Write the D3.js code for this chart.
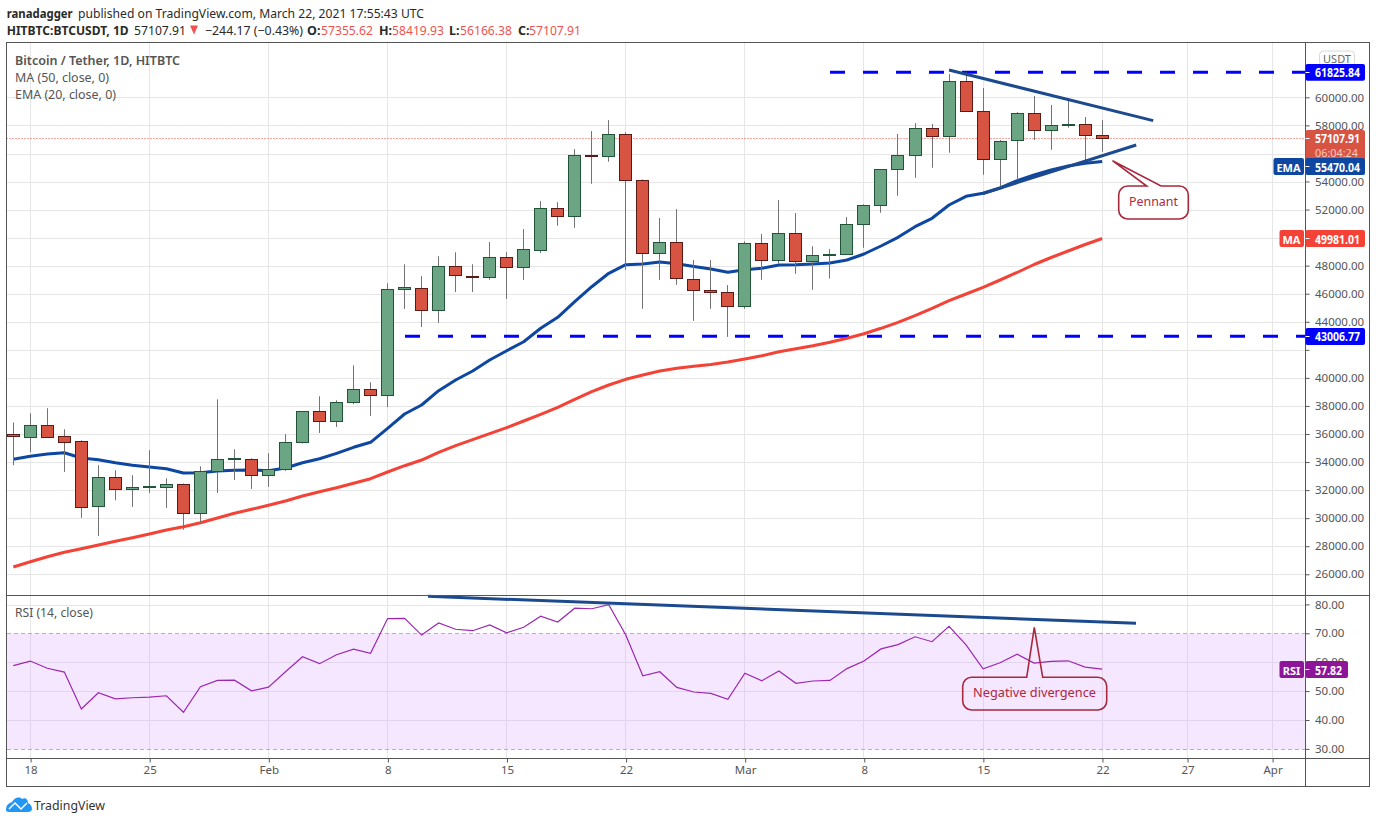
<!DOCTYPE html>
<html><head><meta charset="utf-8">
<script src="https://cdn.jsdelivr.net/npm/d3@7/dist/d3.min.js"></script>
<style>
html,body{margin:0;padding:0;background:#fff}
svg{display:block}
text{font-family:"Noto Sans",sans-serif}
</style></head><body>
<svg id="c" width="1376" height="823"></svg>
<script>
const priceOpen=[36000,35825,36645,35865,35505,30845,32940,32090,32240,32230,32440,30375,33370,34240,34220,
33080,33510,35435,37635,36935,38265,39205,38785,46335,46405,44845,47985,47305,47205,48630,47920,49125,52120,51560,55920,55850,57405,54120,48915,49695,47055,46275,46135,
45140,49625,48420,50335,48350,48800,48840,50985,52340,54910,55900,57825,57265,61185,59040,55630,56975,58900,57700,58060,58090,57355.62];
const priceHigh=[36860,37520,37880,36380,35595,33815,33460,33110,34885,32890,32510,33740,38515,34950,34310,
34670,36025,37635,38730,38445,40945,39730,46785,48140,47290,48710,48995,48145,49720,49000,50645,52640,52570,56350,57635,58415,57545,54190,51440,52070,48440,48440,46655,
49775,50295,52710,51790,49430,49220,51500,52410,54910,57425,58205,58135,61700,61825,60705,56995,58990,60135,59490,59975,58640,58419.93];
const priceLow=[33815,34745,35765,33340,30065,28780,31315,30845,31840,30775,29215,29735,31840,32770,32130,
32270,33410,35365,36115,36545,38165,37335,37965,44955,43670,43960,46170,46170,47030,45670,47030,48960,50890,50740,53875,55450,47750,44965,47030,46675,44110,44965,42965,
44965,47035,48200,47460,46325,47125,48840,49315,51810,53025,54310,55020,56095,59040,54520,53550,54145,56995,56305,57880,55450,56166.38];
const priceClose=[35830,36645,35825,35435,30795,32940,32090,32230,32270,32440,30375,33370,34220,34280,33080,
33510,35435,37635,36935,38275,39205,38785,46335,46475,44845,47985,47345,47245,48630,47920,49195,52120,51560,55900,55850,57405,54120,48915,49695,47135,46275,46135,45140,
49625,48420,50335,48350,48770,48830,50985,52340,54910,55900,57825,57265,61185,59040,55630,56905,58900,57700,58050,58110,57355,57107.91];
const ema20=[34239,34452,34616,34709,34331,34210,33996,33811,33689,33568,33262,33283,33404,33454,33476,
33425,33618,33996,34281,34666,35094,35450,36449,37468,38109,39129,39891,40533,41317,41980,42621,43577,44361,45473,46542,47498,48111,48160,48303,48182,47982,47804,47569,
47754,47854,48089,48111,48160,48232,48446,48873,49444,50064,50819,51418,52366,52986,53200,53578,54098,54505,54861,55147,55339,55470.04];
const ma50=[26561,26939,27295,27609,27865,28129,28393,28649,28913,29198,29434,29719,30054,30389,30674,
30959,31266,31622,31929,32214,32528,32855,33333,33782,34188,34737,35208,35636,36064,36491,36968,37446,37945,38516,39057,39535,39941,40248,40533,40725,40868,40996,41174,
41388,41624,41909,42123,42336,42579,42864,43192,43577,44005,44475,45003,45544,46022,46500,47020,47555,48125,48624,49087,49551,49981.01];
const rsi14=[59.0,60.6,58.1,56.8,44.0,49.65,47.5,47.9,48.1,48.6,42.9,51.7,53.9,54.0,50.3,
51.6,56.9,62.1,59.7,62.8,64.7,63.3,75.3,75.4,69.6,73.8,71.6,71.1,73.1,70.4,72.3,76.1,74.1,78.9,78.7,80.1,69.6,55.5,56.9,51.5,49.9,49.4,47.4,
56.4,53.8,57.2,52.9,53.7,53.9,58.0,60.6,64.8,66.3,69.0,67.3,72.6,66.2,57.9,60.0,63.0,59.9,60.5,60.7,58.5,57.82];
const priceTicks=[26000,28000,30000,32000,34000,36000,38000,40000,42000,44000,46000,48000,50000,52000,54000,56000,58000,60000];
const hiddenPriceLabels=[42000,56000];
const rsiTicks=[30,40,50,60,70,80];
const timeTickDates=["2021-01-18","2021-01-25","2021-02-01","2021-02-08","2021-02-15","2021-02-22","2021-03-01","2021-03-08","2021-03-15","2021-03-22","2021-03-27","2021-04-01"];
const timeTickLabels=["18","25","Feb","8","15","22","Mar","8","15","22","27","Apr"];
const supportLevel=43006.77, resistanceLevel=61825.84;
const firstDay="2021-01-17";

const BORDER="#555", GRID="#e6e6e6", TXT="#555";
const L=6.5,R=1369.5,T=43,B=786.5,AX=1305.5,TA=758.5,SPLIT=595.5;
const svg=d3.select("#c");
const days=priceOpen.map((_,i)=>d3.utcDay.offset(new Date(firstDay),i));
const x=d3.scaleUtc().domain([new Date("2021-01-18"),new Date("2021-04-01")]).range([30.3,1272.3]);
const y=d3.scaleLinear().domain([61825.84,43006.77]).range([72.3,336.3]);
const yr=d3.scaleLinear().domain([80,30]).range([605,749.5]);
const tickDates=timeTickDates.map(d=>new Date(d));
const snap=v=>Math.round(v-0.5)+0.5;

// grid
const grid=svg.append("g").attr("stroke",GRID).attr("stroke-width",1).attr("shape-rendering","crispEdges");
tickDates.forEach(d=>grid.append("line").attr("x1",snap(x(d))).attr("x2",snap(x(d))).attr("y1",T).attr("y2",TA));
priceTicks.forEach(p=>grid.append("line").attr("x1",L).attr("x2",AX).attr("y1",snap(y(p))).attr("y2",snap(y(p))));

// RSI band
svg.append("rect").attr("x",L).attr("width",AX-L).attr("y",snap(yr(70))).attr("height",snap(yr(30))-snap(yr(70))).attr("fill","#9915ff").attr("fill-opacity",0.1);
const rg=svg.append("g").attr("shape-rendering","crispEdges");
rsiTicks.forEach(v=>{
  const edge=(v==70||v==30);
  rg.append("line").attr("x1",L).attr("x2",AX).attr("y1",snap(yr(v))).attr("y2",snap(yr(v)))
    .attr("stroke",edge?"#bfa9c6":(v==80?GRID:"#e2d4ea")).attr("stroke-dasharray",edge?"4 3":null);
});
tickDates.forEach(d=>rg.append("line").attr("x1",snap(x(d))).attr("x2",snap(x(d))).attr("y1",snap(yr(70))+1).attr("y2",snap(yr(30))-1).attr("stroke","#e2d4ea"));

// Last price line
svg.append("line").attr("x1",L).attr("x2",AX).attr("y1",snap(y(57107.91))).attr("y2",snap(y(57107.91))).attr("stroke","#ef4a3c").attr("stroke-width",1).attr("stroke-dasharray","1 2");

// Horizontal dashed levels
svg.append("line").attr("x1",405).attr("x2",AX).attr("y1",y(supportLevel)).attr("y2",y(supportLevel)).attr("stroke","#0000ff").attr("stroke-width",3).attr("stroke-dasharray","15 18");
svg.append("line").attr("x1",830).attr("x2",AX).attr("y1",y(resistanceLevel)).attr("y2",y(resistanceLevel)).attr("stroke","#0000ff").attr("stroke-width",3).attr("stroke-dasharray","15 18");

// Moving averages
const line=d3.line().x((d,i)=>x(days[i])).y(d=>y(d));
svg.append("path").attr("d",line(ma50)).attr("fill","none").attr("stroke","#f44336").attr("stroke-width",3).attr("stroke-linejoin","round");
svg.append("path").attr("d",line(ema20)).attr("fill","none").attr("stroke","#0d47a1").attr("stroke-width",3).attr("stroke-linejoin","round");

// Candles
const cg=svg.append("g");
days.forEach((d,i)=>{
  const up=priceClose[i]>=priceOpen[i], cx=x(d);
  const wx=snap(cx);
  cg.append("line").attr("x1",wx).attr("x2",wx).attr("y1",y(priceHigh[i])).attr("y2",y(priceLow[i])).attr("stroke","#737375").attr("stroke-width",1);
  const top=snap(y(Math.max(priceOpen[i],priceClose[i]))), bot=snap(y(Math.min(priceOpen[i],priceClose[i])));
  cg.append("rect").attr("x",wx-6).attr("width",12).attr("y",top).attr("height",Math.max(bot-top,1))
    .attr("fill",up?"#6ba583":"#d75442").attr("stroke",up?"#225437":"#5b1a13").attr("stroke-width",1);
});

// Trend lines
const TL="#1c4a8f";
[["2021-03-13",61990,"2021-03-25",58380],["2021-03-15",53190,"2021-03-24",56640]].forEach(a=>{
  svg.append("line").attr("x1",x(new Date(a[0]))).attr("y1",y(a[1])).attr("x2",x(new Date(a[2]))).attr("y2",y(a[3])).attr("stroke",TL).attr("stroke-width",3);
});
// RSI pane
svg.append("path").attr("d",d3.line().x((d,i)=>x(days[i])).y(d=>yr(d))(rsi14)).attr("fill","none").attr("stroke","#9c27b0").attr("stroke-width",1.2);
svg.append("line").attr("x1",428).attr("y1",596.3).attr("x2",1136).attr("y2",623.3).attr("stroke",TL).attr("stroke-width",3);

// Frame
const fr=svg.append("g").attr("stroke",BORDER).attr("fill","none").attr("shape-rendering","crispEdges");
fr.append("rect").attr("x",L).attr("y",T-0.5).attr("width",R-L).attr("height",B-T+0.5).attr("stroke-width",1);
fr.append("line").attr("x1",L).attr("x2",R).attr("y1",SPLIT).attr("y2",SPLIT);
fr.append("line").attr("x1",L).attr("x2",R).attr("y1",TA).attr("y2",TA);
fr.append("line").attr("x1",AX).attr("x2",AX).attr("y1",T).attr("y2",B);

// Axes
function style(g){
  g.select(".domain").remove();
  g.selectAll("line").attr("stroke",BORDER);
  g.selectAll("text").attr("fill",TXT).attr("font-size",11.5).attr("font-family",'"Noto Sans",sans-serif');
}
const fmt=d3.format(".2f");
svg.append("g").attr("transform",`translate(${AX},-0.6)`).call(d3.axisRight(y).tickValues(priceTicks).tickSize(4).tickPadding(5.5).tickFormat(fmt)).call(style)
  .selectAll(".tick").each(function(d){ if(hiddenPriceLabels.includes(d)) d3.select(this).select("text").remove(); });
svg.append("g").attr("transform",`translate(${AX},-0.6)`).call(d3.axisRight(yr).tickValues(rsiTicks).tickSize(4).tickPadding(5.5).tickFormat(fmt)).call(style);
svg.append("g").attr("transform",`translate(0.3,${TA})`).call(d3.axisBottom(x).tickValues(tickDates).tickSize(4).tickPadding(3).tickFormat((d,i)=>timeTickLabels[i])).call(style);

// Text helper
function t(s,xx,yy,o={}){
  const e=svg.append("text").attr("x",xx).attr("y",yy).text(s).attr("font-size",o.size||12).attr("fill",o.fill||TXT).attr("text-anchor",o.anchor||"start").attr("dominant-baseline","central");
  if(o.weight)e.attr("font-weight",o.weight);
  if(o.len)e.attr("textLength",o.len).attr("lengthAdjust","spacingAndGlyphs");
  return e;
}
// Header
t("ranadagger",6.7,13,{size:12.5,weight:700,fill:"#2a2a2a",len:66});
t("published on TradingView.com, March 22, 2021 17:55:43 UTC",78,13,{size:12.5,fill:"#2a2a2a",len:346});
t("HITBTC:BTCUSDT, 1D",6.7,30,{size:12.5,weight:700,fill:"#2a2a2a",len:122});
t("57107.91",134,30,{size:12.5,fill:"#2a2a2a",len:52});
svg.append("path").attr("d","M190 25.5 L198 25.5 L194 34.5 Z").attr("fill","#ef5350");
t("\u2212244.17 (\u22120.43%)",205,30,{size:12.5,fill:"#2a2a2a",len:98});
[["O:",307,"57355.62",321],["H:",379,"58419.93",392],["L:",449,"56166.38",460],["C:",518,"57107.91",529]].forEach(a=>{
  t(a[0],a[1],30,{size:12.5,weight:700,fill:"#2a2a2a"});
  t(a[2],a[3],30,{size:12.5,fill:"#ef5350",len:52});
});
t("Bitcoin / Tether, 1D, HITBTC",15,60,{size:12.5,weight:600,len:165});
t("MA (50, close, 0)",15,77,{size:12.5,len:94});
t("EMA (20, close, 0)",15,94.5,{size:12.5,len:101});
t("RSI (14, close)",15,612.5,{size:12.5,len:78});

// Price labels
function tag(x0,w,y0,h,fill){svg.append("rect").attr("x",x0).attr("y",y0).attr("width",w).attr("height",h).attr("rx",2).attr("fill",fill);}
function tick(yy,col){svg.append("line").attr("x1",AX).attr("x2",AX+4).attr("y1",yy).attr("y2",yy).attr("stroke",col||"#fff");}
svg.append("rect").attr("x",1319.5).attr("y",51).attr("width",35).attr("height",15.5).attr("rx",4).attr("fill","#fff").attr("stroke","#d8d8d8");
t("USDT",1337,58,{size:11,anchor:"middle",fill:"#666"});
tag(1305.5,59.5,64,16.7,"#0000ff"); tick(72.5);
t("61825.84",1315,72.6,{size:11.5,weight:700,fill:"#fff",len:45});
tag(1305.5,59.5,328,17,"#0000ff"); tick(336.5);
t("43006.77",1315,336.8,{size:11.5,weight:700,fill:"#fff",len:45});
tag(1305.5,59.5,130,31,"#d75442"); tick(138.5);
t("57107.91",1315,138.6,{size:11.5,weight:700,fill:"#fff",len:45});
t("06:04:24",1315,152,{size:11.5,fill:"#f6c9c2",len:43});
tag(1305.5,59.5,158,17,"#0d47a1"); tick(166.5);
t("55470.04",1315,167,{size:11.5,weight:700,fill:"#fff",len:45});
tag(1273.5,30.5,158,17,"#0d47a1");
t("EMA",1288.5,167,{size:11,weight:700,fill:"#fff",anchor:"middle"});
tag(1305.5,59.5,230,17,"#f44336"); tick(238.5);
t("49981.01",1315,239,{size:11.5,weight:700,fill:"#fff",len:45});
tag(1279.5,24.5,230,17,"#f44336");
t("MA",1291.5,239,{size:11,weight:700,fill:"#fff",anchor:"middle"});
tag(1305.5,42.5,661,17,"#8e1599"); tick(669.5);
t("57.82",1315,670,{size:11.5,weight:700,fill:"#fff",len:27});
tag(1279.5,24.5,661,17,"#8e1599");
t("RSI",1291.5,670,{size:11,weight:700,fill:"#fff",anchor:"middle"});

// Callouts
const CO="#a8283c";
function callout(x0,y0,x1,y1,r,b0,b1,tip,fill){
  const p=d3.path();
  p.moveTo(x0+r,y0); p.lineTo(b0,y0); p.lineTo(tip[0],tip[1]); p.lineTo(b1,y0); p.lineTo(x1-r,y0);
  p.arcTo(x1,y0,x1,y0+r,r); p.lineTo(x1,y1-r); p.arcTo(x1,y1,x1-r,y1,r); p.lineTo(x0+r,y1);
  p.arcTo(x0,y1,x0,y1-r,r); p.lineTo(x0,y0+r); p.arcTo(x0,y0,x0+r,y0,r); p.closePath();
  svg.append("path").attr("d",p.toString()).attr("fill",fill).attr("stroke",CO).attr("stroke-width",1.6);
}
callout(1118.7,186,1188.3,219,9,1146.7,1161,[1112.5,160.7],"#fff");
t("Pennant",1153.5,201.5,{size:12.5,fill:"#b0283f",anchor:"middle",len:49});
callout(962.7,677.3,1106.7,710,9,1026.7,1042.7,[1034.3,627.3],"none");
t("Negative divergence",1034.5,692.5,{size:12.5,fill:"#b0283f",anchor:"middle",len:123});

// Logo
svg.append("path").attr("d","M6 810 C6 805 9 803 12 802 C14 798 19 796 22 799 C25 797 28 799 28 803 C31 804 32 807 32 809 C32 811 30 812 28 812 L9 812 C7 812 6 811 6 810 Z").attr("fill","#2196f3");
svg.append("path").attr("d","M9 809 L15 803 L21 809 L27 803").attr("fill","none").attr("stroke","#fff").attr("stroke-width",1.5);
t("TradingView",34,805,{size:12.5,fill:"#333",len:71});
</script>
</body></html>
